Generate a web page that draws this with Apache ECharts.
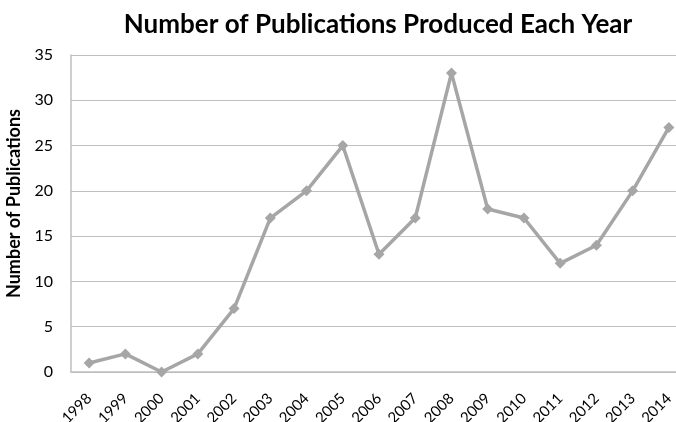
<!DOCTYPE html>
<html><head><meta charset="utf-8">
<script src="https://cdn.jsdelivr.net/npm/echarts@6/dist/echarts.min.js"></script>
<style>html,body{margin:0;padding:0;background:#fff}#c{width:676px;height:422px}</style>
</head><body><div id="c"></div>
<script>
const years = ['1998','1999','2000','2001','2002','2003','2004','2005','2006','2007','2008','2009','2010','2011','2012','2013','2014'];
const publications = [1,2,0,2,7,17,20,25,13,17,33,18,17,12,14,20,27];
const yTicks = {min:0, max:35, interval:5};
const chart = echarts.init(document.getElementById('c'));
const font = 'Lato, "Open Sans", sans-serif';
chart.setOption({
  animation:false,
  title:{text:'Number of Publications Produced Each Year', left:373, textAlign:'center', top:7,
    textStyle:{fontFamily:font, fontWeight:'bold', fontSize:26, color:'#000'}},
  grid:{left:71, width:616, top:55, height:317, containLabel:false, outerBoundsMode:'none'},
  xAxis:{type:'category', data:years, boundaryGap:true,
    axisLine:{lineStyle:{color:'#BFBFBF', width:1.5}}, axisTick:{show:false},
    axisLabel:{rotate:45, color:'#000', fontFamily:font, fontSize:15, margin:24, interval:0}},
  yAxis:{type:'value', min:yTicks.min, max:yTicks.max, interval:yTicks.interval,
    name:'Number of Publications', nameLocation:'middle', nameGap:39, nameRotate:90,
    nameTextStyle:{fontFamily:font, fontWeight:'bold', fontSize:18, color:'#000', padding:[0,0,0,20]},
    axisLine:{show:true, lineStyle:{color:'#BFBFBF', width:1.5}}, axisTick:{show:false},
    splitLine:{lineStyle:{color:'#BFBFBF', width:1.2}},
    axisLabel:{color:'#000', fontFamily:font, fontSize:16, margin:18}},
  series:[{type:'line', data:publications, symbol:'diamond', symbolSize:11,
    lineStyle:{color:'#A6A6A6', width:3.5}, itemStyle:{color:'#A6A6A6'}}]
});
</script></body></html>
